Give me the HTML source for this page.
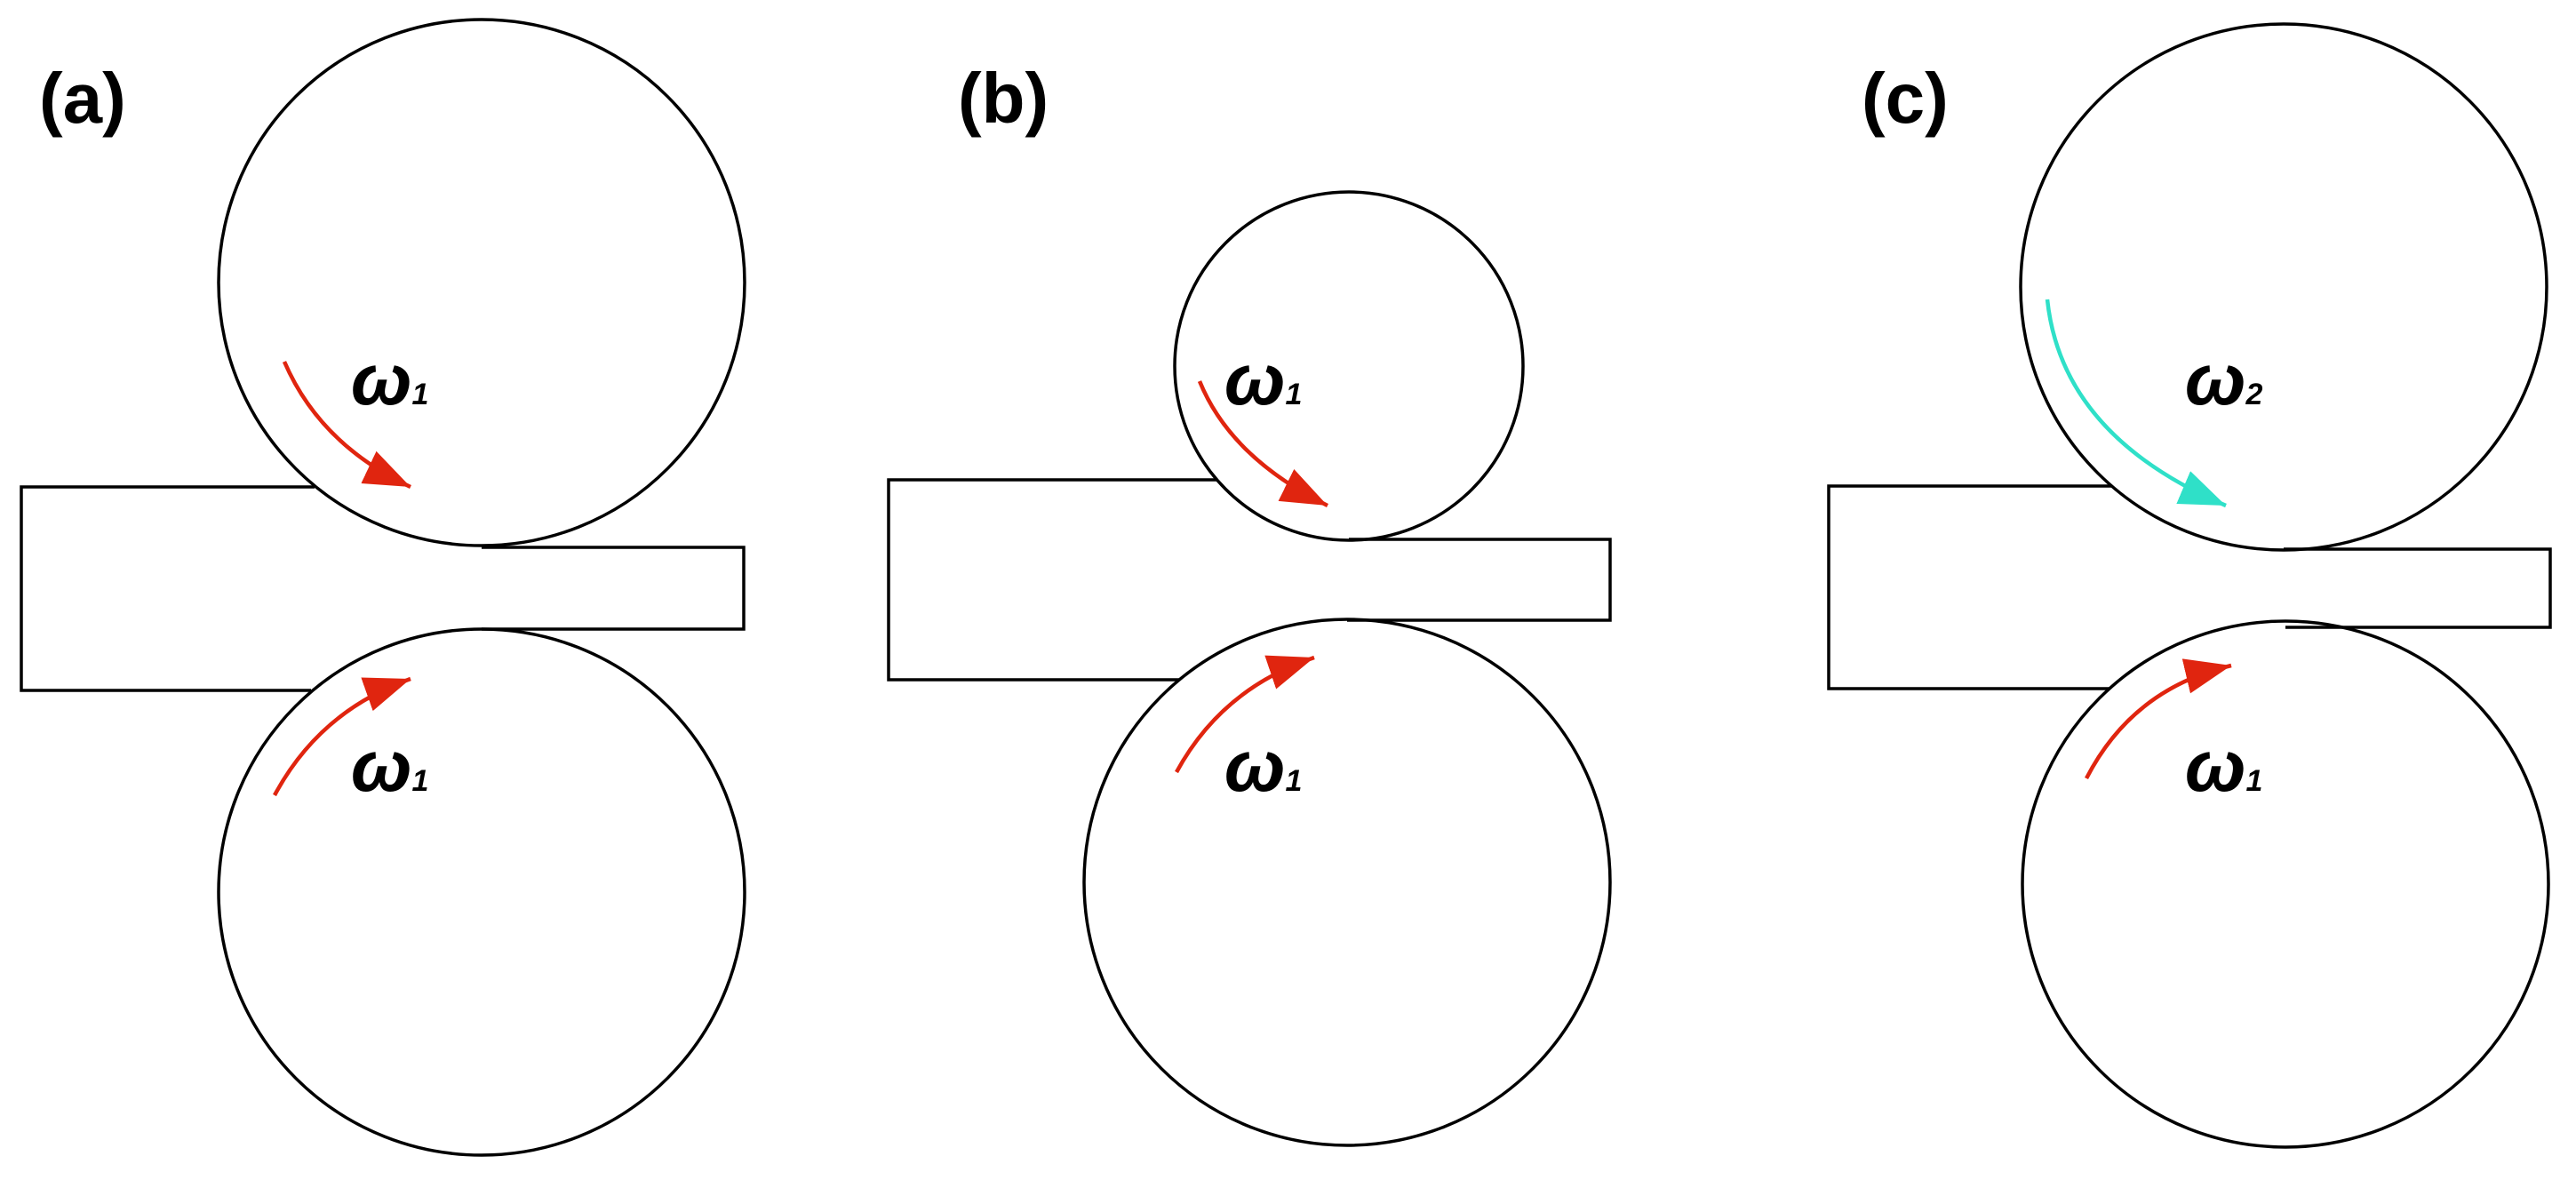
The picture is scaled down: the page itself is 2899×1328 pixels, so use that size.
<!DOCTYPE html>
<html><head><meta charset="utf-8"><style>
html,body{margin:0;padding:0;background:#fff;}
svg{display:block;}
.l{font-family:"Liberation Sans",sans-serif;font-weight:bold;font-size:80px;}
.w{font-family:"Liberation Sans","DejaVu Sans",sans-serif;font-weight:bold;font-style:italic;font-size:82px;}
.s{font-size:34px;}
</style></head><body>
<svg width="2899" height="1328" viewBox="0 0 2899 1328" xmlns="http://www.w3.org/2000/svg">
<defs>
<marker id="hr" markerUnits="userSpaceOnUse" markerWidth="60" markerHeight="50" refX="52" refY="20" orient="auto"><path d="M0,0 L52,20 L0,40 Z" fill="#e0250f"/></marker>
<marker id="hc" markerUnits="userSpaceOnUse" markerWidth="60" markerHeight="50" refX="52" refY="20" orient="auto"><path d="M0,0 L52,20 L0,40 Z" fill="#2fe0c8"/></marker>
</defs>
<g fill="none" stroke="#000" stroke-width="3.5">
<!-- a -->
<circle cx="542" cy="318" r="296"/>
<circle cx="542" cy="1004" r="296"/>
<polyline points="354,548 24,548 24,777 350,777"/>
<polyline points="542,616 837,616 837,708 542,708"/>
<!-- b -->
<circle cx="1518" cy="412" r="196"/>
<circle cx="1516" cy="993" r="296"/>
<polyline points="1370,540 1000,540 1000,765 1327,765"/>
<polyline points="1518,607 1812,607 1812,698 1516,698"/>
<!-- c -->
<circle cx="2570" cy="323" r="296"/>
<circle cx="2572" cy="995" r="296"/>
<polyline points="2377,547 2058,547 2058,775 2374,775"/>
<polyline points="2570,618 2870,618 2870,706 2572,706"/>
</g>
<g fill="none" stroke-width="4.5">
<path d="M320,407 Q360,500 462,548" stroke="#e0250f" marker-end="url(#hr)"/>
<path d="M309,895 Q360,800 462,764" stroke="#e0250f" marker-end="url(#hr)"/>
<path d="M1350,429 Q1385,515 1494,569" stroke="#e0250f" marker-end="url(#hr)"/>
<path d="M1324,869 Q1375,775 1479,740" stroke="#e0250f" marker-end="url(#hr)"/>
<path d="M2304,337 Q2320,490 2505,569" stroke="#2fe0c8" marker-end="url(#hc)"/>
<path d="M2348,876 Q2400,775 2511,749" stroke="#e0250f" marker-end="url(#hr)"/>
</g>
<text class="l" x="44" y="138">(a)</text>
<text class="l" x="1078" y="138">(b)</text>
<text class="l" x="2095" y="138">(c)</text>
<text class="w" x="395" y="455">ω<tspan class="s">1</tspan></text>
<text class="w" x="395" y="890">ω<tspan class="s">1</tspan></text>
<text class="w" x="1378" y="455">ω<tspan class="s">1</tspan></text>
<text class="w" x="1378" y="890">ω<tspan class="s">1</tspan></text>
<text class="w" x="2459" y="455">ω<tspan class="s">2</tspan></text>
<text class="w" x="2459" y="890">ω<tspan class="s">1</tspan></text>
</svg>
</body></html>
